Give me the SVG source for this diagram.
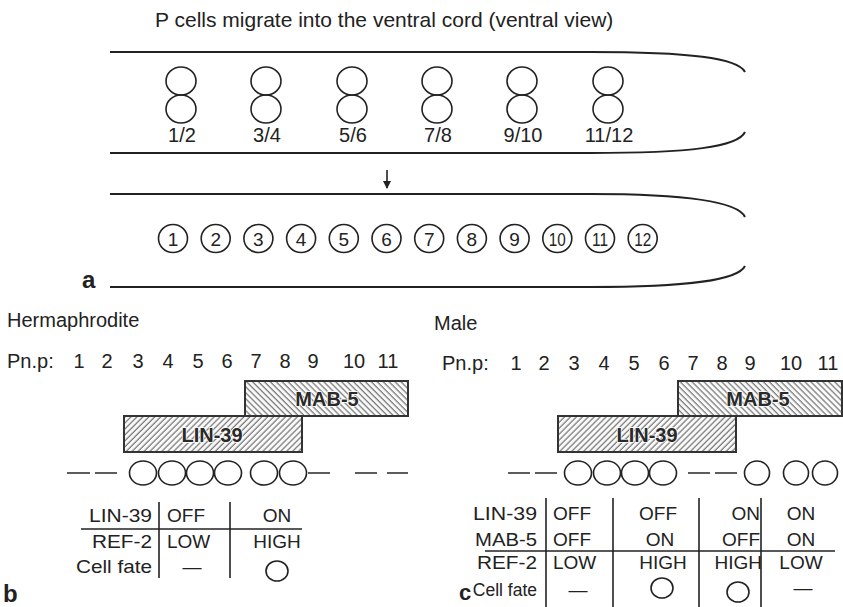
<svg xmlns="http://www.w3.org/2000/svg" width="843" height="607" viewBox="0 0 843 607">
<style>
text{font-family:"Liberation Sans",Arial,sans-serif;fill:#222}
.t20{font-size:20px}
.lbl{font-size:20px;text-anchor:middle}
.num{font-size:19px;text-anchor:middle}
.bold{font-weight:bold}
.band{fill:none;stroke:#222;stroke-width:2}
.cell{fill:none;stroke:#222;stroke-width:1.6}
.dash{stroke:#333;stroke-width:1.6}
.rule{stroke:#222;stroke-width:1.6}
.box{stroke:#333;stroke-width:2}
.tab{font-size:19px}
.r{text-anchor:end}
.m{text-anchor:middle}
.boxlbl{font-size:20px;font-weight:bold;text-anchor:middle;fill:#2a2a2a;stroke:#fff;stroke-width:1.5;paint-order:stroke}
</style>
<defs>
<pattern id="hatchF" patternUnits="userSpaceOnUse" width="4.2" height="4.2" patternTransform="rotate(45)">
<rect width="4.2" height="4.2" fill="#fafafa"/>
<line x1="1" y1="0" x2="1" y2="4.2" stroke="#666" stroke-width="1.1"/>
</pattern>
<pattern id="hatchB" patternUnits="userSpaceOnUse" width="4.2" height="4.2" patternTransform="rotate(-45)">
<rect width="4.2" height="4.2" fill="#fafafa"/>
<line x1="1" y1="0" x2="1" y2="4.2" stroke="#666" stroke-width="1.1"/>
</pattern>
<marker id="ah" markerWidth="8" markerHeight="8" refX="7" refY="4" orient="auto" markerUnits="userSpaceOnUse">
<path d="M0,0 L8,4 L0,8 Z" fill="#222"/>
</marker>
</defs>

<!-- Panel a -->
<g id="panel-a">
<text id="title" x="155" y="27" font-size="21">P cells migrate into the ventral cord (ventral view)</text>
<g id="band1">
<path class="band" d="M110,52 H590 C690,52 738,58 745,72"/>
<path class="band" d="M110,153 H590 C690,153 738,147 745,132"/>
</g>
<g id="pair-1-2"><ellipse class="cell" cx="181" cy="81" rx="15" ry="14"/><ellipse class="cell" cx="181" cy="109" rx="15" ry="14"/><text class="lbl" x="182" y="142">1/2</text></g>
<g id="pair-3-4"><ellipse class="cell" cx="266" cy="81" rx="15" ry="14"/><ellipse class="cell" cx="266" cy="109" rx="15" ry="14"/><text class="lbl" x="267" y="142">3/4</text></g>
<g id="pair-5-6"><ellipse class="cell" cx="352" cy="81" rx="15" ry="14"/><ellipse class="cell" cx="352" cy="109" rx="15" ry="14"/><text class="lbl" x="353" y="142">5/6</text></g>
<g id="pair-7-8"><ellipse class="cell" cx="437" cy="81" rx="15" ry="14"/><ellipse class="cell" cx="437" cy="109" rx="15" ry="14"/><text class="lbl" x="438" y="142">7/8</text></g>
<g id="pair-9-10"><ellipse class="cell" cx="522" cy="81" rx="15" ry="14"/><ellipse class="cell" cx="522" cy="109" rx="15" ry="14"/><text class="lbl" x="523" y="142">9/10</text></g>
<g id="pair-11-12"><ellipse class="cell" cx="608" cy="81" rx="15" ry="14"/><ellipse class="cell" cx="608" cy="109" rx="15" ry="14"/><text class="lbl" x="609" y="142">11/12</text></g>

<g id="connectors">
<line x1="387" y1="170" x2="387" y2="188" stroke="#222" stroke-width="1.6" marker-end="url(#ah)"/>
</g>

<g id="band2">
<path class="band" d="M110,194 H590 C690,194 738,202 745,217"/>
<path class="band" d="M110,287 H590 C690,287 738,280 745,266"/>
</g>
<g id="cells-12">
<g id="c1"><ellipse class="cell" cx="173" cy="238.5" rx="14.5" ry="14"/><text class="num" x="173" y="245.5">1</text></g>
<g id="c2"><ellipse class="cell" cx="215.7" cy="238.5" rx="14.5" ry="14"/><text class="num" x="215.7" y="245.5">2</text></g>
<g id="c3"><ellipse class="cell" cx="258.4" cy="238.5" rx="14.5" ry="14"/><text class="num" x="258.4" y="245.5">3</text></g>
<g id="c4"><ellipse class="cell" cx="301.1" cy="238.5" rx="14.5" ry="14"/><text class="num" x="301.1" y="245.5">4</text></g>
<g id="c5"><ellipse class="cell" cx="343.8" cy="238.5" rx="14.5" ry="14"/><text class="num" x="343.8" y="245.5">5</text></g>
<g id="c6"><ellipse class="cell" cx="386.5" cy="238.5" rx="14.5" ry="14"/><text class="num" x="386.5" y="245.5">6</text></g>
<g id="c7"><ellipse class="cell" cx="429.2" cy="238.5" rx="14.5" ry="14"/><text class="num" x="429.2" y="245.5">7</text></g>
<g id="c8"><ellipse class="cell" cx="471.9" cy="238.5" rx="14.5" ry="14"/><text class="num" x="471.9" y="245.5">8</text></g>
<g id="c9"><ellipse class="cell" cx="514.6" cy="238.5" rx="14.5" ry="14"/><text class="num" x="514.6" y="245.5">9</text></g>
<g id="c10"><ellipse class="cell" cx="557.3" cy="238.5" rx="14.5" ry="14"/><text class="num" x="557.3" y="245.5" textLength="17" lengthAdjust="spacingAndGlyphs">10</text></g>
<g id="c11"><ellipse class="cell" cx="600" cy="238.5" rx="14.5" ry="14"/><text class="num" x="600" y="245.5" textLength="16" lengthAdjust="spacingAndGlyphs">11</text></g>
<g id="c12"><ellipse class="cell" cx="642.7" cy="238.5" rx="14.5" ry="14"/><text class="num" x="642.7" y="245.5" textLength="17" lengthAdjust="spacingAndGlyphs">12</text></g>
</g>
<text id="label-a" x="82" y="288" font-size="24" class="bold">a</text>
</g>

<!-- Panel b -->
<g id="panel-b">
<text x="7" y="327" class="t20">Hermaphrodite</text>
<g id="b-pnp" class="t20">
<text x="7" y="368">Pn.p:</text>
<text class="m" x="79" y="368">1</text><text class="m" x="107" y="368">2</text><text class="m" x="138" y="368">3</text><text class="m" x="168" y="368">4</text><text class="m" x="198" y="368">5</text><text class="m" x="227" y="368">6</text><text class="m" x="256" y="368">7</text><text class="m" x="285" y="368">8</text><text class="m" x="313" y="368">9</text><text class="m" x="354" y="368">10</text><text class="m" x="388" y="368">11</text>
</g>
<g id="b-mab5"><rect class="box" x="245" y="381" width="163" height="35" fill="url(#hatchB)"/><text class="boxlbl" x="327" y="406">MAB-5</text></g>
<g id="b-lin39"><rect class="box" x="124" y="416" width="178" height="36" fill="url(#hatchF)"/><text class="boxlbl" x="212" y="442">LIN-39</text></g>
<g id="b-row">
<line class="dash" x1="67" y1="473" x2="90" y2="473"/><line class="dash" x1="95" y1="473" x2="117" y2="473"/>
<ellipse class="cell" cx="143" cy="473" rx="13.5" ry="12"/><ellipse class="cell" cx="172" cy="473" rx="13.5" ry="12"/><ellipse class="cell" cx="200" cy="473" rx="13.5" ry="12"/><ellipse class="cell" cx="228" cy="473" rx="13.5" ry="12"/>
<ellipse class="cell" cx="264" cy="473" rx="13.5" ry="12"/><ellipse class="cell" cx="293" cy="473" rx="13.5" ry="12"/>
<line class="dash" x1="308" y1="473" x2="330" y2="473"/><line class="dash" x1="355" y1="473" x2="377" y2="473"/><line class="dash" x1="387" y1="473" x2="408" y2="473"/>
</g>
<g id="b-table" class="tab">
<line class="rule" x1="159" y1="502" x2="159" y2="578"/>
<line class="rule" x1="230" y1="502" x2="230" y2="578"/>
<line class="rule" x1="81" y1="529" x2="302" y2="529"/>
<text class="r" x="152" y="522" textLength="63" lengthAdjust="spacingAndGlyphs">LIN-39</text>
<text class="r" x="152" y="548" textLength="60" lengthAdjust="spacingAndGlyphs">REF-2</text>
<text class="r" x="152" y="573" textLength="76" lengthAdjust="spacingAndGlyphs">Cell fate</text>
<text x="167" y="522">OFF</text>
<text x="167" y="548">LOW</text>
<text class="m" x="192" y="573">—</text>
<text class="m" x="277" y="522">ON</text>
<text class="m" x="277" y="548">HIGH</text>
<ellipse class="cell" cx="277" cy="571" rx="11" ry="10"/>
</g>
<text id="label-b" x="3" y="602" font-size="24" class="bold">b</text>
</g>

<!-- Panel c -->
<g id="panel-c">
<text x="434" y="330" class="t20">Male</text>
<g id="c-pnp" class="t20">
<text x="442" y="370">Pn.p:</text>
<text class="m" x="516" y="370">1</text><text class="m" x="544" y="370">2</text><text class="m" x="574" y="370">3</text><text class="m" x="604" y="370">4</text><text class="m" x="634" y="370">5</text><text class="m" x="664" y="370">6</text><text class="m" x="693" y="370">7</text><text class="m" x="722" y="370">8</text><text class="m" x="750" y="370">9</text><text class="m" x="791" y="370">10</text><text class="m" x="828" y="370">11</text>
</g>
<g id="c-mab5"><rect class="box" x="678" y="381" width="164" height="35" fill="url(#hatchB)"/><text class="boxlbl" x="758" y="406">MAB-5</text></g>
<g id="c-lin39"><rect class="box" x="558" y="416" width="178" height="36" fill="url(#hatchF)"/><text class="boxlbl" x="647" y="442">LIN-39</text></g>
<g id="c-row">
<line class="dash" x1="508" y1="473" x2="530" y2="473"/><line class="dash" x1="535" y1="473" x2="557" y2="473"/>
<ellipse class="cell" cx="578" cy="473" rx="13.5" ry="12"/><ellipse class="cell" cx="607" cy="473" rx="13.5" ry="12"/><ellipse class="cell" cx="635" cy="473" rx="13.5" ry="12"/><ellipse class="cell" cx="663" cy="473" rx="13.5" ry="12"/>
<line class="dash" x1="688" y1="473" x2="710" y2="473"/><line class="dash" x1="715" y1="473" x2="737" y2="473"/>
<ellipse class="cell" cx="757" cy="473" rx="12.5" ry="12"/><ellipse class="cell" cx="796" cy="473" rx="12.5" ry="12"/><ellipse class="cell" cx="825" cy="473" rx="12.5" ry="12"/>
</g>
<g id="c-table" class="tab">
<line class="rule" x1="546" y1="498" x2="546" y2="607"/>
<line class="rule" x1="613" y1="498" x2="613" y2="607"/>
<line class="rule" x1="699" y1="498" x2="699" y2="607"/>
<line class="rule" x1="761" y1="498" x2="761" y2="607"/>
<line class="rule" x1="485" y1="551" x2="835" y2="551"/>
<text class="r" x="537" y="520" textLength="64" lengthAdjust="spacingAndGlyphs">LIN-39</text>
<text class="r" x="537" y="546" textLength="62" lengthAdjust="spacingAndGlyphs">MAB-5</text>
<text class="r" x="537" y="569" textLength="60" lengthAdjust="spacingAndGlyphs">REF-2</text>
<text class="r" x="537" y="596" font-size="17.5">Cell fate</text>
<text x="553" y="520">OFF</text>
<text x="553" y="546">OFF</text>
<text x="553" y="569">LOW</text>
<text class="m" x="578" y="596">—</text>
<text class="m" x="658" y="520">OFF</text>
<text class="m" x="660" y="546">ON</text>
<text class="m" x="663" y="569">HIGH</text>
<ellipse class="cell" cx="662" cy="588" rx="11" ry="10"/>
<text class="r" x="760" y="520">ON</text>
<text class="r" x="760" y="546">OFF</text>
<text class="r" x="762" y="569">HIGH</text>
<ellipse class="cell" cx="738" cy="592" rx="11" ry="10"/>
<text class="m" x="801" y="520">ON</text>
<text class="m" x="801" y="546">ON</text>
<text class="m" x="801" y="569">LOW</text>
<text class="m" x="803" y="594">—</text>
</g>
<text id="label-c" x="459" y="600" font-size="22" class="bold">c</text>
</g>
</svg>
